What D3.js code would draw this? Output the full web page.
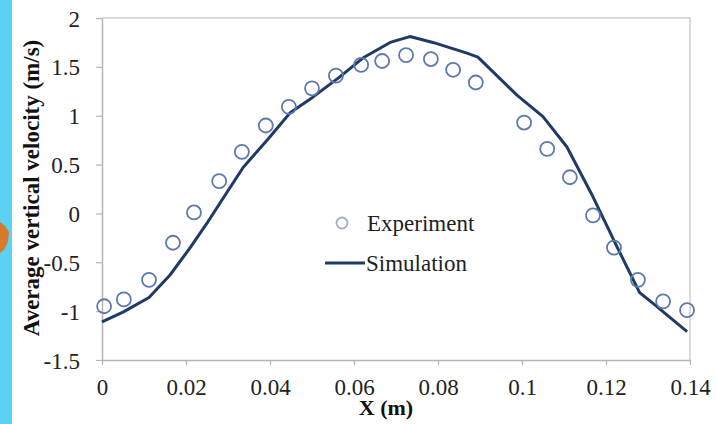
<!DOCTYPE html>
<html>
<head>
<meta charset="utf-8">
<script src="https://cdn.jsdelivr.net/npm/d3@7"></script>
<style>
  html, body { margin: 0; padding: 0; background: #ffffff; }
  svg { display: block; }
</style>
</head>
<body>
<svg id="chart" width="716" height="424"></svg>
<script>
// Measured vertical velocity across the channel (experiment)
const expX = [0.0005, 0.0052, 0.0112, 0.0169, 0.0219, 0.0279, 0.0333, 0.0390, 0.0445, 0.0500,
              0.0557, 0.0617, 0.0667, 0.0724, 0.0783, 0.0836, 0.0890, 0.1005, 0.1060, 0.1114,
              0.1169, 0.1219, 0.1276, 0.1336, 0.1393];
const expY = [-0.95, -0.88, -0.68, -0.30, 0.01, 0.33, 0.63, 0.90, 1.09, 1.28,
              1.41, 1.52, 1.56, 1.62, 1.58, 1.47, 1.34, 0.93, 0.66, 0.37,
              -0.02, -0.35, -0.68, -0.90, -0.99];

// CFD profile (simulation)
const simX = [0.0000, 0.0050, 0.0112, 0.0162, 0.0210, 0.0250, 0.0286, 0.0336, 0.0393, 0.0448,
              0.0502, 0.0567, 0.0621, 0.0686, 0.0733, 0.0788, 0.0869, 0.0895, 0.0988, 0.1050,
              0.1107, 0.1169, 0.1226, 0.1280, 0.1312, 0.1393];
const simY = [-1.11, -1.01, -0.86, -0.63, -0.35, -0.10, 0.14, 0.47, 0.75, 1.03,
              1.19, 1.40, 1.59, 1.75, 1.81, 1.75, 1.64, 1.60, 1.21, 0.99,
              0.68, 0.17, -0.34, -0.81, -0.92, -1.21];

const xTicks = [0, 0.02, 0.04, 0.06, 0.08, 0.1, 0.12, 0.14];
const xTickLabels = ["0", "0.02", "0.04", "0.06", "0.08", "0.1", "0.12", "0.14"];
const yTicks = [-1.5, -1, -0.5, 0, 0.5, 1, 1.5, 2];
const yTickLabels = ["-1.5", "-1", "-0.5", "0", "0.5", "1", "1.5", "2"];

const seriesNames = ["Experiment", "Simulation"];

const svg = d3.select("#chart");
const W = 716, H = 424;
const plotLeft = 102, plotRight = 690, plotTop = 18, plotBottom = 360;

const serif = "'Liberation Serif', 'Times New Roman', serif";
const axisGrey = "#b4b4b4";
const lineColor = "#1f3a66";
const circleColor = "#6079ad";

// page background with side strip
svg.append("rect").attr("width", W).attr("height", H).attr("fill", "#ffffff");
svg.append("rect").attr("x", 0).attr("y", 0).attr("width", 12).attr("height", H).attr("fill", "#5cd2f2");
svg.append("path")
  .attr("d", "M0,222 L5,226 L9,232 L8,242 L4,250 L0,253 Z")
  .attr("fill", "#d67a2c");

const x = d3.scaleLinear().domain([0, 0.14]).range([plotLeft, plotRight]);
const y = d3.scaleLinear().domain([-1.5, 2]).range([plotBottom, plotTop]);

// plot-area frame (top and right edges)
svg.append("path")
  .attr("d", `M${plotLeft},${plotTop} H${plotRight} V${plotBottom}`)
  .attr("fill", "none").attr("stroke", "#cfcfcf").attr("stroke-width", 1.5);

// axes
const xAxis = d3.axisBottom(x).tickValues(xTicks).tickSize(5).tickSizeOuter(0)
  .tickFormat((d, i) => xTickLabels[i]);
const yAxis = d3.axisLeft(y).tickValues(yTicks).tickSize(6).tickSizeOuter(0)
  .tickFormat((d, i) => yTickLabels[i]);

const gx = svg.append("g").attr("transform", `translate(0,${plotBottom})`).call(xAxis);
const gy = svg.append("g").attr("transform", `translate(${plotLeft},0)`).call(yAxis);

[gx, gy].forEach(g => {
  g.attr("font-family", null).attr("font-size", null);
  g.select(".domain").attr("stroke", axisGrey).attr("stroke-width", 1.5);
  g.selectAll(".tick line").attr("stroke", axisGrey).attr("stroke-width", 1.2);
  g.selectAll(".tick text")
    .attr("fill", "#222")
    .style("font-family", serif)
    .style("font-size", "23px");
});
gx.selectAll(".tick text").attr("dy", null).attr("y", 35);
gy.selectAll(".tick text").attr("x", -22).attr("dy", "0.35em");

// axis titles
svg.append("text")
  .attr("x", 386).attr("y", 415)
  .attr("text-anchor", "middle")
  .style("font-family", serif).style("font-size", "22px").style("font-weight", "bold")
  .attr("fill", "#111")
  .text("X (m)");

svg.append("text")
  .attr("transform", "translate(39,188) rotate(-90)")
  .attr("text-anchor", "middle")
  .style("font-family", serif).style("font-size", "23px").style("font-weight", "bold")
  .attr("fill", "#111")
  .text("Average vertical velocity (m/s)");

// simulation curve
const simData = simX.map((v, i) => [v, simY[i]]);
svg.append("path")
  .datum(simData)
  .attr("fill", "none")
  .attr("stroke", lineColor)
  .attr("stroke-width", 3)
  .attr("stroke-linejoin", "round")
  .attr("d", d3.line().x(d => x(d[0])).y(d => y(d[1])).curve(d3.curveLinear));

// experimental points
const expData = expX.map((v, i) => [v, expY[i]]);
svg.append("g").selectAll("circle")
  .data(expData)
  .join("circle")
  .attr("cx", d => x(d[0]))
  .attr("cy", d => y(d[1]))
  .attr("r", 7)
  .attr("fill", "none")
  .attr("stroke", circleColor)
  .attr("stroke-width", 1.8);

// legend
const lg = svg.append("g");
lg.append("circle").attr("cx", 342).attr("cy", 223).attr("r", 5.5)
  .attr("fill", "none").attr("stroke", "#a3acc8").attr("stroke-width", 1.8);
lg.append("text").attr("x", 367).attr("y", 231)
  .style("font-family", serif).style("font-size", "23px").attr("fill", "#222")
  .text(seriesNames[0]);
lg.append("line").attr("x1", 325).attr("x2", 365).attr("y1", 263).attr("y2", 263)
  .attr("stroke", lineColor).attr("stroke-width", 3);
lg.append("text").attr("x", 366).attr("y", 271)
  .style("font-family", serif).style("font-size", "23px").attr("fill", "#222")
  .text(seriesNames[1]);
</script>
</body>
</html>
